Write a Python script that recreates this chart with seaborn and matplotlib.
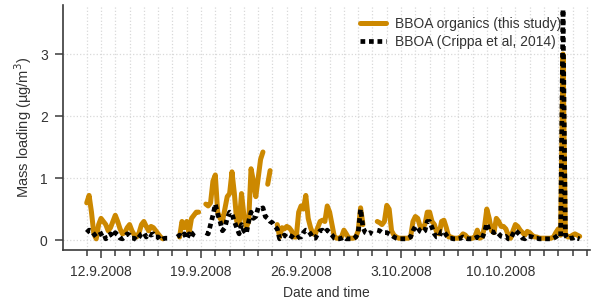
import numpy as np
import pandas as pd
import matplotlib
matplotlib.use("Agg")
import matplotlib.pyplot as plt
import matplotlib.dates as mdates
from matplotlib.lines import Line2D
from matplotlib.ticker import FuncFormatter, FixedLocator
import seaborn as sns

nan = np.nan

# 4-hourly values (00, 04, 08, 12, 16, 20 h), one row per day, 11.9.2008 - 15.10.2008
start = "2008-09-11 00:00"

bboa_this = [
    0.60, 0.72, 0.45, 0.10, 0.02, 0.25,   # 11.9
    0.35, 0.30, 0.25, 0.15, 0.20, 0.30,   # 12.9
    0.40, 0.30, 0.18, 0.10, 0.12, 0.20,   # 13.9
    0.25, 0.15, 0.08, 0.05, 0.12, 0.25,   # 14.9
    0.30, 0.22, 0.15, 0.22, 0.20, 0.15,   # 15.9
    0.10, 0.05, 0.02, nan, nan, nan,      # 16.9
    nan, nan, nan, 0.05, 0.30, 0.20,      # 17.9
    0.30, 0.12, 0.35, 0.40, 0.45, 0.45,   # 18.9
    nan, nan, 0.58, 0.55, 0.60, 0.95,     # 19.9
    1.05, 0.45, 0.35, 0.30, 0.50, 0.70,   # 20.9
    0.75, 1.10, 0.75, 0.30, 0.25, 0.75,   # 21.9
    0.40, 0.20, 0.30, 1.15, 0.95, 0.70,   # 22.9
    1.00, 1.30, 1.42, nan, 0.90, 1.12,    # 23.9
    nan, nan, 0.25, 0.05, 0.20, 0.18,     # 24.9
    0.22, 0.20, 0.15, 0.05, 0.05, 0.45,   # 25.9
    0.55, 0.50, 0.72, 0.35, 0.20, 0.10,   # 26.9
    0.10, 0.20, 0.30, 0.32, 0.30, 0.55,   # 27.9
    0.45, 0.25, 0.05, 0.03, 0.03, 0.05,   # 28.9
    0.16, 0.10, 0.03, 0.03, 0.03, 0.05,   # 29.9
    0.15, 0.52, 0.25, nan, nan, nan,      # 30.9
    nan, nan, 0.30, 0.28, 0.25, 0.30,     # 1.10
    0.56, 0.50, 0.15, 0.08, 0.05, 0.03,   # 2.10
    0.03, 0.03, 0.03, 0.03, 0.05, 0.30,   # 3.10
    0.38, 0.35, 0.22, 0.20, 0.25, 0.45,   # 4.10
    0.45, 0.30, 0.25, 0.12, 0.10, 0.30,   # 5.10
    0.32, 0.20, 0.05, 0.05, 0.03, 0.03,   # 6.10
    0.03, 0.05, 0.10, 0.08, 0.03, 0.03,   # 7.10
    0.03, 0.05, 0.16, 0.03, 0.05, 0.20,   # 8.10
    0.50, 0.35, 0.15, 0.12, 0.35, 0.30,   # 9.10
    0.22, 0.22, 0.18, 0.08, 0.03, 0.15,   # 10.10
    0.25, 0.22, 0.16, 0.12, 0.08, 0.14,   # 11.10
    0.12, 0.08, 0.05, 0.05, 0.03, 0.03,   # 12.10
    0.03, 0.03, 0.03, 0.03, 0.05, 0.12,   # 13.10
    0.18, 0.08, 3.00, 0.10, 0.05, 0.05,   # 14.10
    0.08, 0.10, 0.08, 0.06, nan, nan,     # 15.10
]

bboa_crippa = [
    0.12, 0.16, 0.15, 0.10, 0.05, 0.08,   # 11.9
    0.10, 0.12, 0.02, 0.05, 0.10, 0.05,   # 12.9
    0.12, 0.08, 0.03, 0.02, 0.05, 0.10,   # 13.9
    0.08, 0.03, 0.03, 0.00, 0.05, 0.10,   # 14.9
    0.12, 0.05, 0.10, 0.08, 0.10, 0.05,   # 15.9
    0.05, 0.00, 0.02, 0.03, 0.03, nan,    # 16.9
    nan, nan, 0.05, 0.08, 0.05, 0.10,     # 17.9
    0.02, 0.10, 0.05, 0.12, 0.15, nan,    # 18.9
    nan, nan, 0.12, 0.10, 0.25, 0.40,     # 19.9
    0.58, 0.42, 0.30, 0.15, 0.20, 0.35,   # 20.9
    0.45, 0.42, 0.30, 0.20, 0.10, 0.25,   # 21.9
    0.15, 0.10, 0.30, 0.45, 0.35, 0.38,   # 22.9
    0.52, 0.50, 0.52, 0.38, 0.35, 0.30,   # 23.9
    0.28, 0.22, 0.18, 0.02, 0.05, 0.08,   # 24.9
    0.05, 0.08, 0.06, 0.03, 0.02, 0.05,   # 25.9
    0.05, 0.12, 0.16, 0.15, 0.10, 0.03,   # 26.9
    0.03, 0.10, 0.15, 0.16, 0.12, 0.16,   # 27.9
    0.12, 0.08, 0.03, 0.02, 0.02, 0.03,   # 28.9
    0.05, 0.02, 0.02, 0.02, 0.02, 0.05,   # 29.9
    0.12, 0.50, 0.20, 0.12, 0.10, 0.12,   # 30.9
    0.10, nan, 0.16, 0.15, 0.12, 0.12,    # 1.10
    0.12, 0.10, 0.08, 0.05, 0.03, 0.02,   # 2.10
    0.02, 0.02, 0.02, 0.03, 0.05, 0.15,   # 3.10
    0.22, 0.20, 0.14, 0.12, 0.15, 0.30,   # 4.10
    0.30, 0.20, 0.10, 0.05, 0.05, 0.14,   # 5.10
    0.14, 0.08, 0.03, 0.03, 0.02, 0.02,   # 6.10
    0.02, 0.03, 0.05, 0.03, 0.02, 0.02,   # 7.10
    0.02, 0.03, 0.05, 0.02, 0.03, 0.12,   # 8.10
    0.27, 0.15, 0.14, 0.12, 0.14, 0.10,   # 9.10
    0.06, 0.05, 0.06, 0.02, 0.02, 0.10,   # 10.10
    0.16, 0.12, 0.08, 0.03, 0.02, 0.06,   # 11.10
    0.06, 0.05, 0.03, 0.03, 0.02, 0.02,   # 12.10
    0.02, 0.02, 0.02, 0.02, 0.03, 0.05,   # 13.10
    0.08, 0.06, 3.72, 0.08, 0.02, 0.03,   # 14.10
    0.03, 0.05, 0.03, 0.02, nan, nan,     # 15.10
]

label_this = "BBOA organics (this study)"
label_crippa = "BBOA (Crippa et al, 2014)"
major_days = ["2008-09-12", "2008-09-19", "2008-09-26", "2008-10-03", "2008-10-10"]
yticks = [0, 1, 2, 3]

orange = "#cc8800"
dark = "#3a3a3a"

time = pd.date_range(start, periods=len(bboa_this), freq="4h")


def segments(values):
    # split at gaps so the lines break where data is missing
    s = pd.Series(values, index=time)
    seg = s.isna().cumsum()
    df = pd.DataFrame({"time": time, "value": s.values, "seg": seg.values})
    return df.dropna()


sns.set_theme(style="ticks")
plt.rcParams["font.family"] = ["Liberation Sans", "DejaVu Sans"]
plt.rcParams["font.size"] = 10

fig = plt.figure(figsize=(5.94, 3.06), dpi=100)
ax = fig.add_axes([63 / 594, 56 / 306, 527 / 594, 245 / 306])

sns.lineplot(data=segments(bboa_this), x="time", y="value", units="seg",
             estimator=None, color=orange, linewidth=3.6, ax=ax)
n_orange = len(ax.lines)
sns.lineplot(data=segments(bboa_crippa), x="time", y="value", units="seg",
             estimator=None, color="black", linewidth=3.4, ax=ax)
for ln in ax.lines[n_orange:]:
    ln.set_dashes((1.0, 0.8))
    ln.set_dash_capstyle("butt")

ax.set_xlim(pd.Timestamp("2008-09-09 08:10"), pd.Timestamp("2008-10-16 05:20"))
ax.set_ylim(-0.16, 3.79)
ax.set_yticks(yticks)

majors = pd.to_datetime(major_days)
minors = pd.date_range("2008-09-11", "2008-10-16", freq="D")
ax.xaxis.set_major_locator(FixedLocator(mdates.date2num(majors)))
ax.xaxis.set_minor_locator(FixedLocator(mdates.date2num(minors)))
ax.xaxis.set_major_formatter(FuncFormatter(
    lambda v, p: f"{mdates.num2date(v).day}.{mdates.num2date(v).month}.{mdates.num2date(v).year}"))

ax.grid(True, which="both", axis="x", color="#d9d9d9", linestyle=":", linewidth=0.9)
ax.grid(True, which="major", axis="y", color="#d9d9d9", linestyle=":", linewidth=0.9)
ax.set_axisbelow(True)

for side in ["top", "right"]:
    ax.spines[side].set_visible(False)
for side in ["left", "bottom"]:
    ax.spines[side].set_color(dark)
    ax.spines[side].set_linewidth(1.2)

ax.tick_params(axis="both", which="major", direction="out", length=6, width=1.1,
               color=dark, labelcolor="#333333", labelsize=10, pad=5)
ax.tick_params(axis="x", which="minor", direction="out", length=4, width=1.1, color=dark)

ax.set_xlabel("Date and time", color="#333333", fontsize=10, labelpad=5)
ax.set_ylabel("Mass loading (µg/m$^3$)", color="#333333", fontsize=10.5, labelpad=4)

handles = [Line2D([], [], color=orange, linewidth=3.6),
           Line2D([], [], color="black", linewidth=3.4, dashes=(1.0, 0.8), dash_capstyle="butt")]
ax.legend(handles, [label_this, label_crippa], loc="upper right",
          bbox_to_anchor=(0.945, 0.95), frameon=False, borderpad=0, borderaxespad=0,
          handlelength=1.9, handletextpad=0.6, labelspacing=0.25, fontsize=10,
          labelcolor="#333333")

fig.savefig("out.png", dpi=100)
